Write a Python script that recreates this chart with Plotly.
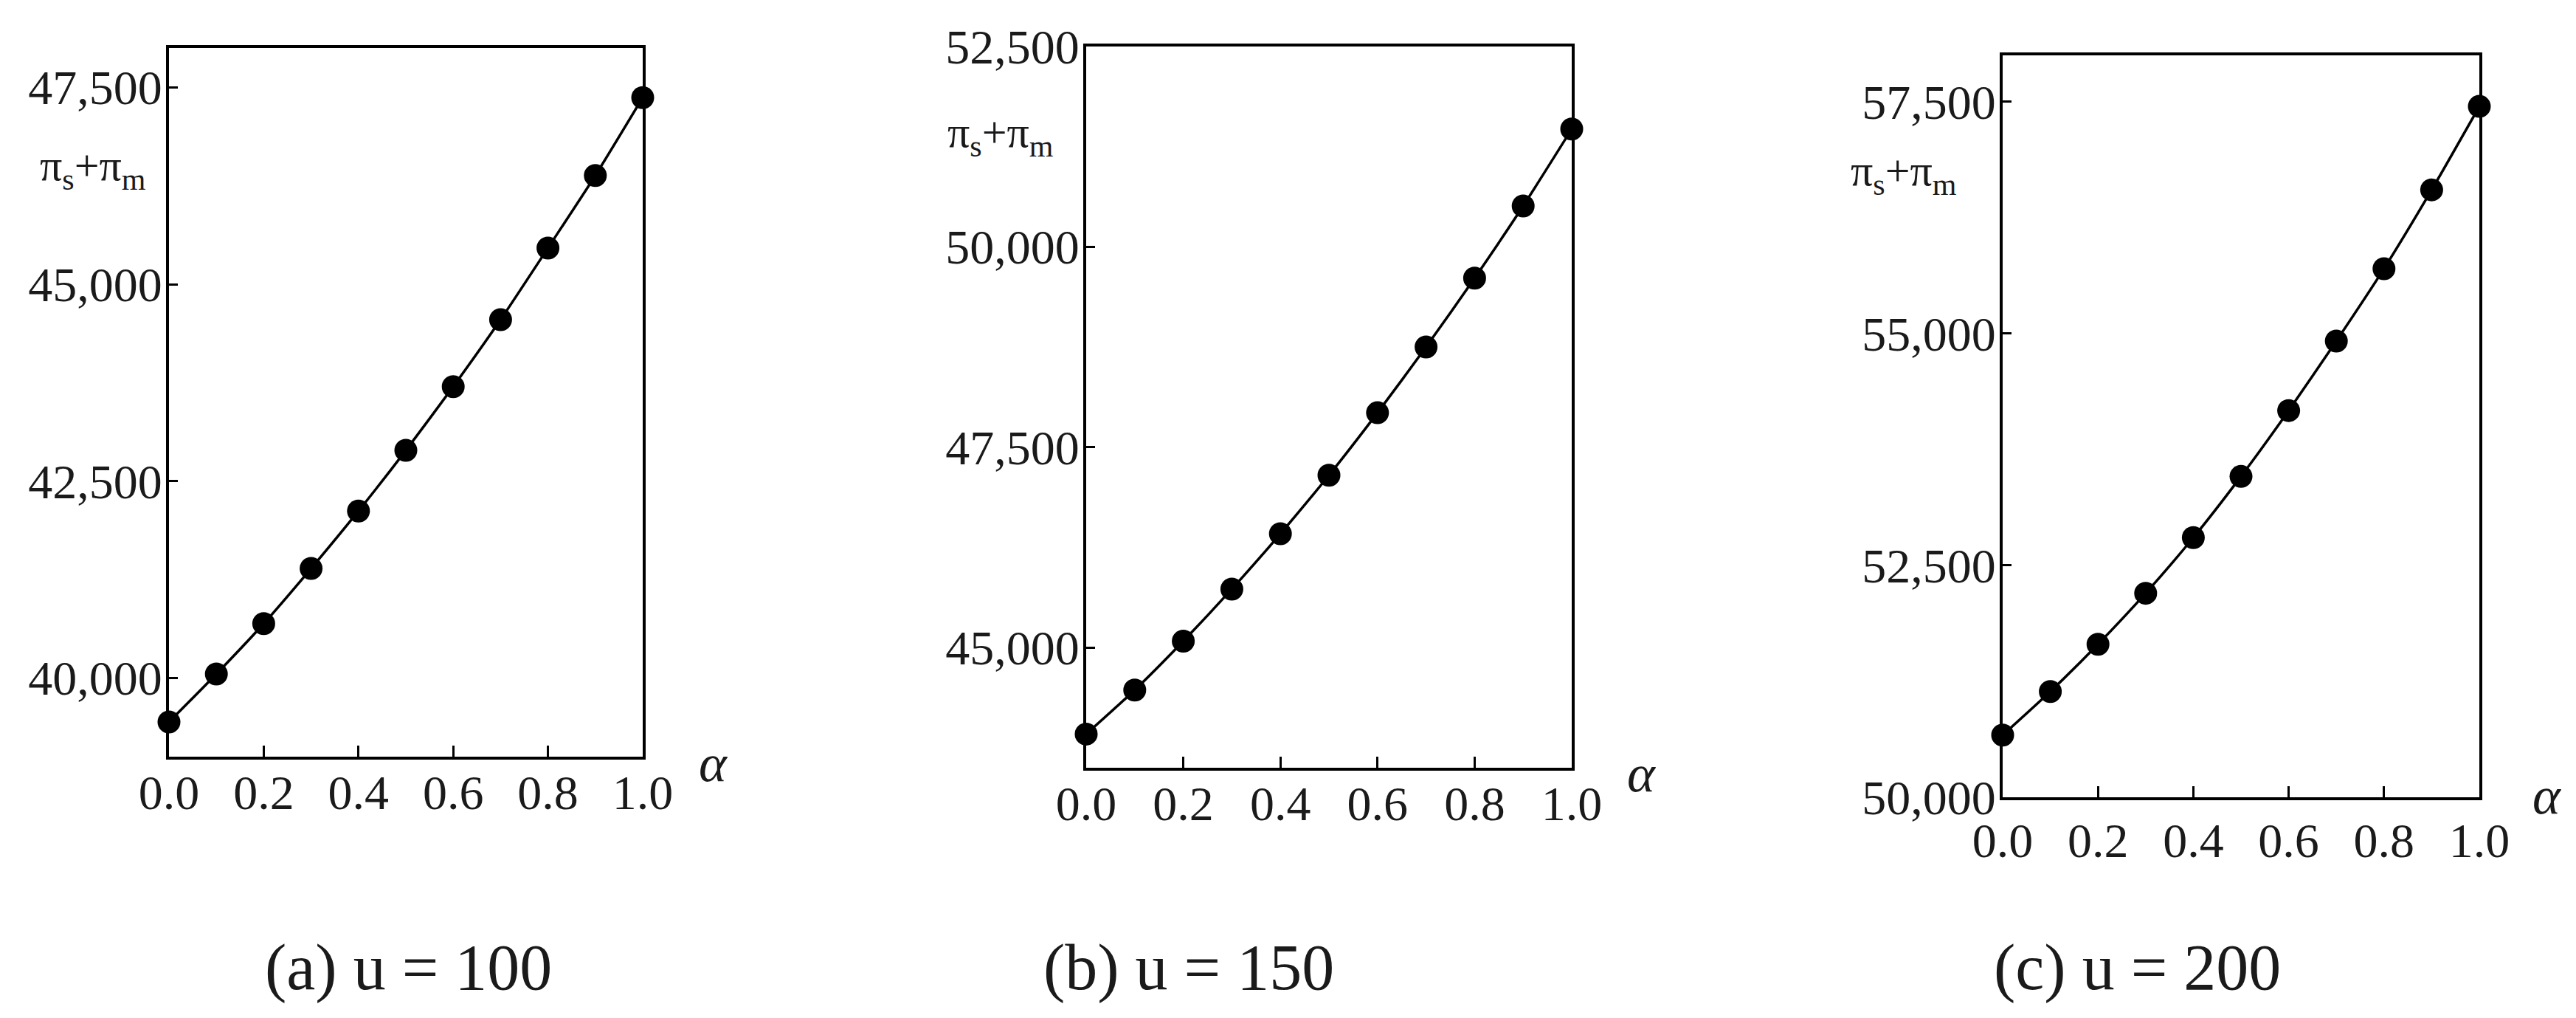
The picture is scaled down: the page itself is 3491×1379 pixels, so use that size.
import plotly.graph_objects as go

W, H = 3491, 1379

alpha = [0.0, 0.1, 0.2, 0.3, 0.4, 0.5, 0.6, 0.7, 0.8, 0.9, 1.0]
profit_u100 = [39440, 40050, 40690, 41390, 42120, 42890, 43700, 44550, 45460, 46380, 47370]
profit_u150 = [43920, 44470, 45080, 45730, 46420, 47150, 47930, 48750, 49610, 50510, 51470]
profit_u200 = [50670, 51140, 51650, 52200, 52800, 53460, 54170, 54920, 55700, 56550, 57450]

x_ticks = [0.0, 0.2, 0.4, 0.6, 0.8, 1.0]
y_ticks_u100 = [40000, 42500, 45000, 47500]
y_ticks_u150 = [45000, 47500, 50000, 52500]
y_ticks_u200 = [50000, 52500, 55000, 57500]
y_ranges = [[39000, 48000], [43500, 52500], [50000, 58000]]
captions = ["(a) u = 100", "(b) u = 150", "(c) u = 200"]
y_label = "π<sub>s</sub>+π<sub>m</sub>"
x_label = "α"

series = [profit_u100, profit_u150, profit_u200]
y_ticks = [y_ticks_u100, y_ticks_u150, y_ticks_u200]

# panel boxes in pixels: left, right, top, bottom
boxes = [(221, 863, 57, 1017), (1464, 2122, 55, 1032), (2706, 3352, 67, 1072)]
ylab_pos = [(44, 220), (1274, 175), (2498, 228)]
xlab_pos = [(958, 1026), (2216, 1040), (3443, 1070)]
x_standoff = [-12, -12, -2]
cap_pos = [545, 1603, 2888]

FONT = "Liberation Serif"
INK = "#1a1a1a"

fig = go.Figure()
layout = dict(
    template="none",
    width=W, height=H,
    margin=dict(l=0, r=0, t=0, b=0, autoexpand=False),
    paper_bgcolor="white", plot_bgcolor="white",
    showlegend=False,
    font=dict(family=FONT, color=INK, size=64),
)
annotations = []
for i in range(3):
    sfx = "" if i == 0 else str(i + 1)
    l, r, t, b = boxes[i]
    fig.add_trace(go.Scatter(
        x=alpha, y=series[i], mode="lines+markers",
        line=dict(color="black", width=3.5, shape="spline", smoothing=0.6),
        marker=dict(color="black", size=31, line=dict(width=0)),
        cliponaxis=False,
        xaxis="x" + sfx, yaxis="y" + sfx,
    ))
    layout["xaxis" + sfx] = dict(
        domain=[l / W, r / W], anchor="y" + sfx, range=[0, 1],
        tickvals=x_ticks, tickformat=".1f", automargin=False,
        ticks="inside", ticklen=15, tickwidth=3, tickcolor="black",
        showline=True, linewidth=4, linecolor="black", mirror=True,
        showgrid=False, zeroline=False,
        tickfont=dict(family=FONT, size=66, color=INK),
        ticklabelstandoff=x_standoff[i],
    )
    layout["yaxis" + sfx] = dict(
        domain=[1 - b / H, 1 - t / H], anchor="x" + sfx, range=y_ranges[i],
        tickvals=y_ticks[i], tickformat=",d", automargin=False,
        ticks="inside", ticklen=12, tickwidth=3, tickcolor="black",
        showline=True, linewidth=4, linecolor="black", mirror=True,
        showgrid=False, zeroline=False,
        tickfont=dict(family=FONT, size=66, color=INK),
        ticklabelstandoff=-8,
    )
    annotations.append(dict(
        x=ylab_pos[i][0] / W, y=1 - ylab_pos[i][1] / H, xref="paper", yref="paper",
        xanchor="left", yanchor="middle", showarrow=False, text=y_label,
        font=dict(family=FONT, size=60, color=INK),
    ))
    annotations.append(dict(
        x=xlab_pos[i][0] / W, y=1 - xlab_pos[i][1] / H, xref="paper", yref="paper",
        xanchor="center", yanchor="middle", showarrow=False,
        text="<i>" + x_label + "</i>",
        font=dict(family=FONT, size=72, color=INK),
    ))
    annotations.append(dict(
        x=cap_pos[i] / W, y=1 - 1302 / H, xref="paper", yref="paper",
        xanchor="center", yanchor="middle", showarrow=False, text=captions[i],
        font=dict(family=FONT, size=88, color=INK),
    ))
layout["annotations"] = annotations
fig.update_layout(**layout)
fig.write_html("out.html")
